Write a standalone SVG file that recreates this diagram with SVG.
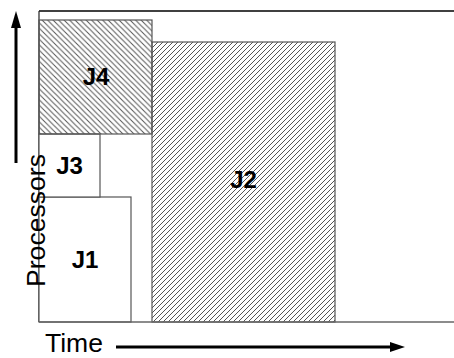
<svg xmlns="http://www.w3.org/2000/svg" width="454" height="358" viewBox="0 0 454 358">
<style>
.lbl{font-family:"Liberation Sans",Arial,sans-serif;font-weight:bold;font-size:24px;fill:#000;text-anchor:middle}
.ax{font-family:"Liberation Sans",Arial,sans-serif;font-size:26px;fill:#000}
.box{stroke:#555;stroke-width:1.2}
.hatch{stroke:#555;stroke-width:1}
</style>
<defs>
<pattern id="hb" patternUnits="userSpaceOnUse" width="5.5" height="5.5">
<path class="hatch" d="M-1,-1 L6.5,6.5 M-4,1.5 L4,9.5 M1.5,-4 L9.5,4"/>
</pattern>
<pattern id="hf" patternUnits="userSpaceOnUse" width="5" height="5">
<path class="hatch" d="M-1,6 L6,-1 M-3,3 L3,-3 M2,8 L8,2"/>
</pattern>
</defs>
<g id="frame">
<line x1="39" y1="11" x2="454" y2="11" stroke="#000" stroke-width="1.5"/>
<line x1="39" y1="11" x2="39" y2="322" stroke="#222" stroke-width="1.2"/>
</g>
<g id="J1">
<rect class="box" x="39" y="197" width="92" height="125" fill="#fff"/>
<text class="lbl" x="85" y="268">J1</text>
</g>
<g id="J3">
<rect class="box" x="39" y="134" width="61" height="63" fill="#fff"/>
<text class="lbl" x="69.5" y="174">J3</text>
</g>
<g id="J4">
<rect class="box" x="39" y="20" width="113" height="114" fill="url(#hb)"/>
<text class="lbl" x="96" y="85">J4</text>
</g>
<g id="J2">
<rect class="box" x="152" y="42" width="183" height="280" fill="url(#hf)"/>
<text class="lbl" x="243.5" y="188">J2</text>
</g>
<g id="connectors">
<line x1="39" y1="322" x2="454" y2="322" stroke="#666" stroke-width="1.5"/>
<line x1="16" y1="163" x2="16" y2="24" stroke="#000" stroke-width="3"/>
<polygon points="16,11 21,28 11,28" fill="#000"/>
<line x1="116" y1="347" x2="393" y2="347" stroke="#000" stroke-width="3"/>
<polygon points="405,347 390,342 390,352" fill="#000"/>
</g>
<g id="labels">
<text class="ax" x="45" y="352" style="font-size:25px" textLength="58" lengthAdjust="spacingAndGlyphs">Time</text>
<text class="ax" transform="translate(45,287) rotate(-90)" x="0" y="0" textLength="133" lengthAdjust="spacingAndGlyphs">Processors</text>
</g>
</svg>
